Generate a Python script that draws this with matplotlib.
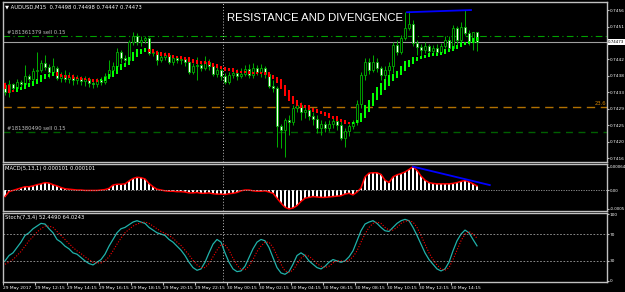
import matplotlib.pyplot as plt
import numpy as np

# AUDUSD M15 candles (open, high, low, close)
opens = [0.74355, 0.74336, 0.74358, 0.74347, 0.74363, 0.74358, 0.74380, 0.74371, 0.74393, 0.74396,
         0.74415, 0.74404, 0.74390, 0.74401, 0.74374, 0.74382, 0.74371, 0.74377, 0.74369, 0.74374,
         0.74366, 0.74371, 0.74360, 0.74358, 0.74369, 0.74363, 0.74380, 0.74396, 0.74407, 0.74445,
         0.74429, 0.74423, 0.74472, 0.74489, 0.74472, 0.74478, 0.74483, 0.74442, 0.74445, 0.74423,
         0.74431, 0.74437, 0.74418, 0.74429, 0.74423, 0.74426, 0.74418, 0.74390, 0.74407, 0.74410,
         0.74401, 0.74418, 0.74407, 0.74385, 0.74396, 0.74380, 0.74363, 0.74382, 0.74388, 0.74380,
         0.74385, 0.74399, 0.74382, 0.74401, 0.74390, 0.74401, 0.74385, 0.74352, 0.74347, 0.74243,
         0.74232, 0.74259, 0.74254, 0.74292, 0.74300, 0.74281, 0.74287, 0.74270, 0.74262, 0.74238,
         0.74248, 0.74238, 0.74248, 0.74257, 0.74246, 0.74210, 0.74229, 0.74243, 0.74254, 0.74303,
         0.74382, 0.74418, 0.74396, 0.74418, 0.74401, 0.74382, 0.74396, 0.74407, 0.74464, 0.74445,
         0.74483, 0.74511, 0.74521, 0.74470, 0.74459, 0.74451, 0.74461, 0.74448, 0.74456, 0.74445,
         0.74461, 0.74478, 0.74456, 0.74511, 0.74478, 0.74513, 0.74497, 0.74472, 0.74498]
highs = [0.74363, 0.74369, 0.74360, 0.74371, 0.74369, 0.74410, 0.74385, 0.74401, 0.74445, 0.74423,
         0.74437, 0.74412, 0.74429, 0.74407, 0.74390, 0.74396, 0.74390, 0.74385, 0.74382, 0.74380,
         0.74380, 0.74377, 0.74369, 0.74374, 0.74377, 0.74388, 0.74423, 0.74418, 0.74456, 0.74451,
         0.74437, 0.74478, 0.74500, 0.74497, 0.74489, 0.74489, 0.74486, 0.74451, 0.74451, 0.74445,
         0.74445, 0.74442, 0.74437, 0.74434, 0.74431, 0.74431, 0.74423, 0.74415, 0.74431, 0.74418,
         0.74434, 0.74426, 0.74415, 0.74407, 0.74404, 0.74388, 0.74390, 0.74401, 0.74399, 0.74401,
         0.74410, 0.74412, 0.74415, 0.74410, 0.74412, 0.74407, 0.74390, 0.74369, 0.74352, 0.74248,
         0.74265, 0.74273, 0.74300, 0.74306, 0.74309, 0.74298, 0.74292, 0.74281, 0.74273, 0.74259,
         0.74257, 0.74259, 0.74265, 0.74265, 0.74259, 0.74238, 0.74248, 0.74259, 0.74314, 0.74390,
         0.74429, 0.74429, 0.74437, 0.74429, 0.74407, 0.74407, 0.74418, 0.74472, 0.74478, 0.74491,
         0.74554, 0.74557, 0.74532, 0.74478, 0.74467, 0.74472, 0.74467, 0.74464, 0.74467, 0.74470,
         0.74489, 0.74489, 0.74519, 0.74516, 0.74527, 0.74560, 0.74505, 0.74500, 0.74498]
lows = [0.74328, 0.74322, 0.74339, 0.74341, 0.74347, 0.74352, 0.74363, 0.74366, 0.74360, 0.74390,
        0.74396, 0.74374, 0.74382, 0.74369, 0.74363, 0.74363, 0.74360, 0.74355, 0.74358, 0.74355,
        0.74352, 0.74349, 0.74347, 0.74349, 0.74355, 0.74358, 0.74374, 0.74388, 0.74396, 0.74415,
        0.74410, 0.74418, 0.74464, 0.74464, 0.74461, 0.74470, 0.74437, 0.74434, 0.74410, 0.74418,
        0.74423, 0.74412, 0.74410, 0.74415, 0.74412, 0.74407, 0.74385, 0.74385, 0.74369, 0.74393,
        0.74396, 0.74396, 0.74380, 0.74377, 0.74369, 0.74358, 0.74358, 0.74374, 0.74369, 0.74374,
        0.74380, 0.74374, 0.74374, 0.74382, 0.74377, 0.74374, 0.74347, 0.74336, 0.74186, 0.74183,
        0.74158, 0.74219, 0.74246, 0.74281, 0.74259, 0.74265, 0.74259, 0.74246, 0.74224, 0.74219,
        0.74227, 0.74229, 0.74238, 0.74232, 0.74205, 0.74186, 0.74216, 0.74235, 0.74246, 0.74292,
        0.74369, 0.74385, 0.74390, 0.74390, 0.74369, 0.74369, 0.74377, 0.74388, 0.74437, 0.74440,
        0.74478, 0.74505, 0.74461, 0.74437, 0.74434, 0.74442, 0.74434, 0.74437, 0.74437, 0.74440,
        0.74456, 0.74448, 0.74451, 0.74464, 0.74472, 0.74491, 0.74464, 0.74451, 0.74447]
closes = [0.74336, 0.74358, 0.74347, 0.74363, 0.74358, 0.74380, 0.74371, 0.74393, 0.74396, 0.74415,
          0.74404, 0.74390, 0.74407, 0.74374, 0.74382, 0.74371, 0.74377, 0.74369, 0.74374, 0.74366,
          0.74371, 0.74360, 0.74358, 0.74369, 0.74363, 0.74380, 0.74396, 0.74407, 0.74445, 0.74429,
          0.74423, 0.74472, 0.74489, 0.74472, 0.74478, 0.74483, 0.74442, 0.74445, 0.74423, 0.74431,
          0.74437, 0.74418, 0.74429, 0.74423, 0.74426, 0.74418, 0.74390, 0.74407, 0.74410, 0.74401,
          0.74418, 0.74407, 0.74385, 0.74396, 0.74380, 0.74363, 0.74382, 0.74388, 0.74380, 0.74385,
          0.74399, 0.74382, 0.74401, 0.74390, 0.74401, 0.74385, 0.74352, 0.74347, 0.74243, 0.74232,
          0.74259, 0.74254, 0.74292, 0.74300, 0.74281, 0.74287, 0.74270, 0.74262, 0.74238, 0.74248,
          0.74238, 0.74248, 0.74257, 0.74246, 0.74210, 0.74229, 0.74243, 0.74254, 0.74303, 0.74382,
          0.74418, 0.74396, 0.74418, 0.74401, 0.74382, 0.74396, 0.74407, 0.74464, 0.74445, 0.74483,
          0.74511, 0.74521, 0.74470, 0.74459, 0.74451, 0.74461, 0.74448, 0.74456, 0.74445, 0.74461,
          0.74478, 0.74456, 0.74511, 0.74478, 0.74513, 0.74497, 0.74472, 0.74498, 0.74473]

# smoothed (heiken ashi) overlay bars
ha_open = [0.74360, 0.74355, 0.74341, 0.74339, 0.74344, 0.74347, 0.74352, 0.74355, 0.74360, 0.74366,
           0.74374, 0.74380, 0.74382, 0.74388, 0.74385, 0.74382, 0.74380, 0.74380, 0.74377, 0.74377,
           0.74374, 0.74374, 0.74371, 0.74369, 0.74369, 0.74369, 0.74374, 0.74380, 0.74388, 0.74399,
           0.74407, 0.74412, 0.74423, 0.74434, 0.74442, 0.74448, 0.74451, 0.74451, 0.74448, 0.74445,
           0.74442, 0.74440, 0.74437, 0.74434, 0.74434, 0.74431, 0.74429, 0.74426, 0.74423, 0.74420,
           0.74418, 0.74418, 0.74415, 0.74412, 0.74407, 0.74404, 0.74401, 0.74399, 0.74396, 0.74393,
           0.74393, 0.74393, 0.74390, 0.74390, 0.74390, 0.74390, 0.74388, 0.74382, 0.74377, 0.74369,
           0.74355, 0.74339, 0.74325, 0.74314, 0.74306, 0.74300, 0.74298, 0.74292, 0.74287, 0.74284,
           0.74281, 0.74276, 0.74270, 0.74268, 0.74262, 0.74259, 0.74254, 0.74251, 0.74254, 0.74257,
           0.74268, 0.74284, 0.74300, 0.74317, 0.74330, 0.74344, 0.74355, 0.74369, 0.74377, 0.74385,
           0.74396, 0.74407, 0.74415, 0.74423, 0.74429, 0.74431, 0.74434, 0.74437, 0.74437, 0.74440,
           0.74442, 0.74448, 0.74451, 0.74456, 0.74461, 0.74467, 0.74470, 0.74472, 0.74478]
ha_close = [0.74347, 0.74336, 0.74339, 0.74347, 0.74349, 0.74358, 0.74358, 0.74366, 0.74371, 0.74380,
            0.74385, 0.74385, 0.74390, 0.74382, 0.74380, 0.74377, 0.74377, 0.74374, 0.74374, 0.74371,
            0.74371, 0.74369, 0.74366, 0.74366, 0.74371, 0.74377, 0.74385, 0.74393, 0.74407, 0.74412,
            0.74415, 0.74431, 0.74445, 0.74451, 0.74453, 0.74456, 0.74448, 0.74445, 0.74440, 0.74437,
            0.74437, 0.74434, 0.74431, 0.74431, 0.74429, 0.74426, 0.74420, 0.74418, 0.74415, 0.74415,
            0.74415, 0.74412, 0.74407, 0.74404, 0.74401, 0.74396, 0.74396, 0.74393, 0.74390, 0.74390,
            0.74390, 0.74388, 0.74388, 0.74388, 0.74388, 0.74385, 0.74380, 0.74374, 0.74363, 0.74347,
            0.74328, 0.74314, 0.74306, 0.74300, 0.74295, 0.74295, 0.74289, 0.74284, 0.74281, 0.74278,
            0.74273, 0.74268, 0.74265, 0.74259, 0.74257, 0.74251, 0.74251, 0.74254, 0.74259, 0.74278,
            0.74298, 0.74314, 0.74333, 0.74347, 0.74358, 0.74369, 0.74380, 0.74385, 0.74393, 0.74407,
            0.74418, 0.74423, 0.74429, 0.74431, 0.74434, 0.74437, 0.74440, 0.74440, 0.74442, 0.74445,
            0.74451, 0.74453, 0.74459, 0.74464, 0.74470, 0.74472, 0.74475, 0.74481, 0.74486]

macd = [-1.6, -0.4, -0.1, 0.2, 0.5, 0.8, 0.8, 1.0, 1.3, 1.5,
        1.8, 1.7, 1.3, 1.0, 0.6, 0.3, 0.2, 0.1, 0.0, 0.0,
        -0.1, -0.1, -0.1, -0.1, 0.0, 0.1, 0.4, 1.2, 1.4, 1.4,
        1.5, 2.2, 2.8, 3.1, 3.0, 2.7, 1.6, 0.8, 0.2, 0.0,
        -0.2, -0.3, -0.3, -0.4, -0.4, -0.5, -0.7, -0.7, -0.6, -0.8,
        -0.8, -0.7, -0.9, -1.0, -1.0, -1.1, -0.9, -0.8, -0.6, -0.2,
        0.0, 0.0, -0.2, -0.3, -0.3, -0.2, -0.5, -0.8, -2.0, -3.2,
        -4.2, -4.6, -4.4, -3.8, -2.8, -2.0, -1.8, -1.6, -1.7, -1.8,
        -1.8, -1.7, -1.6, -1.5, -1.4, -1.0, -0.8, -1.2, -0.5, 0.5,
        3.2, 4.1, 4.2, 4.2, 3.8, 2.4, 1.8, 3.2, 3.7, 4.0,
        4.4, 5.0, 5.7, 4.8, 3.4, 2.4, 1.8, 1.6, 1.5, 1.5,
        1.5, 1.5, 1.6, 1.8, 2.1, 2.3, 2.0, 1.5, 1.01]  # x 1e-4

stoch_main = [30, 38, 42, 50, 58, 68, 72, 78, 82, 86, 85, 78, 72, 62, 58, 52, 48, 42, 40, 35,
              30, 26, 24, 28, 32, 40, 52, 62, 72, 78, 80, 84, 88, 90, 88, 86, 80, 76, 72, 70,
              68, 62, 58, 52, 46, 38, 28, 20, 16, 18, 28, 42, 55, 62, 58, 42, 28, 18, 14, 15,
              22, 35, 48, 58, 62, 60, 50, 35, 20, 12, 10, 14, 25, 38, 42, 38, 30, 25, 20, 18,
              22, 28, 32, 30, 28, 30, 36, 45, 60, 75, 85, 88, 90, 86, 80, 75, 74, 80, 86, 90,
              92, 90, 80, 68, 55, 42, 32, 25, 18, 15, 18, 28, 45, 60, 70, 76, 72, 62, 52.449]
stoch_signal = [25, 28, 32, 38, 44, 52, 60, 66, 73, 78, 82, 82, 80, 74, 68, 62, 56, 50, 45, 41,
                36, 32, 28, 27, 27, 30, 36, 45, 55, 64, 72, 77, 82, 85, 87, 88, 86, 82, 78, 74,
                71, 68, 64, 58, 53, 46, 39, 31, 24, 20, 20, 26, 36, 46, 54, 54, 46, 34, 24, 17,
                17, 22, 32, 44, 52, 58, 58, 50, 38, 25, 15, 13, 16, 25, 34, 39, 37, 32, 26, 22,
                20, 22, 27, 30, 30, 29, 31, 36, 45, 58, 70, 80, 86, 88, 86, 80, 76, 76, 80, 86,
                89, 90, 88, 80, 68, 55, 42, 32, 24, 18, 16, 20, 32, 46, 60, 70, 74, 70, 64.024]

price_ticks = [0.74560, 0.74515, 0.74425, 0.74380, 0.74335, 0.74290, 0.74245, 0.74200, 0.74155]
time_pos = [-0.5, 7.5, 15.5, 23.5, 31.5, 39.5, 47.5, 55.5, 63.5, 71.5, 79.5, 87.5, 95.5, 103.5, 111.5]
time_labels = ["29 May 2017", "29 May 12:15", "29 May 14:15", "29 May 16:15", "29 May 18:15",
               "29 May 20:15", "29 May 22:15", "30 May 00:15", "30 May 02:15", "30 May 04:15",
               "30 May 06:15", "30 May 08:15", "30 May 10:15", "30 May 12:15", "30 May 14:15"]

order1 = 0.74490
order2 = 0.74227
fib236 = 0.74296
last_price = 0.74473
separator = 54.5
res_x, res_y = [100.5, 116.5], [0.74554, 0.74560]
div_x, div_y = [102, 121.2], [0.00057, 0.00012]

BG = "black"
GRAY = "#c0c0c0"
SMALL = 3.8
AXIS = 3.1

fig = plt.figure(figsize=(6.25, 2.92), dpi=100, facecolor=BG)
ax = fig.add_axes([3 / 625, 1 - 162 / 292, 604 / 625, 160 / 292])
axm = fig.add_axes([3 / 625, 1 - 211 / 292, 604 / 625, 47 / 292])
axs = fig.add_axes([3 / 625, 1 - 282 / 292, 604 / 625, 69 / 292])

for a in (ax, axm, axs):
    a.set_facecolor(BG)
    a.set_xlim(-0.5, 150.5)
    for sp in a.spines.values():
        sp.set_color(GRAY)
        sp.set_linewidth(1.0)
    a.yaxis.tick_right()
    a.tick_params(axis="y", colors="white", labelsize=AXIS, length=1.5, pad=0.5, color=GRAY)
    a.axvline(separator, color=GRAY, lw=0.7, ls=(0, (1, 2)))

ax.set_xticks([])
axm.set_xticks([])

# --- main price panel
x = np.arange(len(closes))
o, h, l, c = map(np.array, (opens, highs, lows, closes))
ax.vlines(x, l, h, color="#00b000", lw=0.7, zorder=2)
bear = c < o
ax.bar(x, np.abs(c - o) + 0.000012, bottom=np.minimum(o, c), width=0.55,
       color=np.where(bear, "white", "black"), edgecolor="#00b000", linewidth=0.6, zorder=3)

hao, hac = np.array(ha_open), np.array(ha_close)
ha_col = np.where(hac < hao, "#ff0000", "#00ff00")
ax.bar(x, np.abs(hac - hao) + 0.00003, bottom=np.minimum(hao, hac) - 0.000015, width=0.6,
       color=ha_col, linewidth=0, zorder=4)

ax.axhline(last_price, color="#a0a0a0", lw=0.8, zorder=1)
ax.axhline(order1, color="#00a000", lw=0.8, ls=(0, (6, 3, 1, 3)), zorder=1)
ax.axhline(fib236, color="#b07000", lw=1.0, ls=(0, (6, 4)), zorder=1)
ax.axhline(order2, color="#006000", lw=1.0, ls=(0, (5, 4)), zorder=1)
ax.text(0.5, order1 + 0.00002, "#181361379 sell 0.15", color=GRAY, fontsize=SMALL, va="bottom")
ax.text(0.5, order2 + 0.00002, "#181380490 sell 0.15", color=GRAY, fontsize=SMALL, va="bottom")
ax.text(150.3, fib236 + 0.00001, "23.6", color="#d08000", fontsize=SMALL, ha="right", va="bottom")
ax.plot(res_x, res_y, color="#0000ff", lw=1.3, zorder=5)

ax.set_ylim(0.74145, 0.74582)
ax.set_yticks(price_ticks, [f"{v:.4f}" for v in price_ticks])
ax.text(1.002, last_price, f"{last_price:.5f}", transform=ax.get_yaxis_transform(),
        fontsize=2.9, color="black", va="center", ha="left",
        bbox=dict(facecolor="white", edgecolor="none", pad=0.5))

ax.text(0.003, 0.985, "\u25bc AUDUSD,M15  0.74498 0.74498 0.74447 0.74473", transform=ax.transAxes,
        color="white", fontsize=SMALL, va="top", ha="left")
ax.text(0.517, 0.9, "RESISTANCE AND DIVENGENCE", transform=ax.transAxes, color="white",
        fontsize=8.2, ha="center", va="center", family="Liberation Sans")

# --- MACD panel
mv = np.array(macd) * 1e-4
axm.bar(x, mv, width=0.28, color="white", linewidth=0)
axm.plot(x, mv, color="#ff0000", lw=1.1)
axm.axhline(0, color="#a0a0a0", lw=0.6, ls=(0, (1.5, 1.5)))
axm.plot(div_x, div_y, color="#0000ff", lw=1.3)
axm.set_ylim(-0.000512, 0.000634)
axm.set_yticks([0.00057, 0.0, -0.00046], ["0.00064", "0.00", "-0.0005"])
axm.tick_params(axis="y", labelsize=2.9)
axm.text(0.003, 0.96, "MACD(5,13,1) 0.000101 0.000101", transform=axm.transAxes,
         color="white", fontsize=SMALL, va="top")

# --- Stochastic panel
axs.plot(x, stoch_main, color="#20b2aa", lw=0.9)
axs.plot(x, stoch_signal, color="#ff0000", lw=0.8, ls=(0, (1, 1.5)))
for lev in (70, 30):
    axs.axhline(lev, color="#a0a0a0", lw=0.6, ls=(0, (2, 2)))
axs.set_ylim(-1.5, 101.5)
axs.set_yticks([100, 70, 30, 0], ["100", "70", "30", "0"])
axs.text(0.003, 0.97, "Stoch(7,3,4) 52.4490 64.0243", transform=axs.transAxes,
         color="white", fontsize=SMALL, va="top")
axs.set_xticks(time_pos, time_labels)
axs.tick_params(axis="x", colors="white", labelsize=3.2, length=2, pad=1, color=GRAY)
for lbl in axs.get_xticklabels():
    lbl.set_ha("left")

fig.savefig("out.png", dpi=100, facecolor=BG)
